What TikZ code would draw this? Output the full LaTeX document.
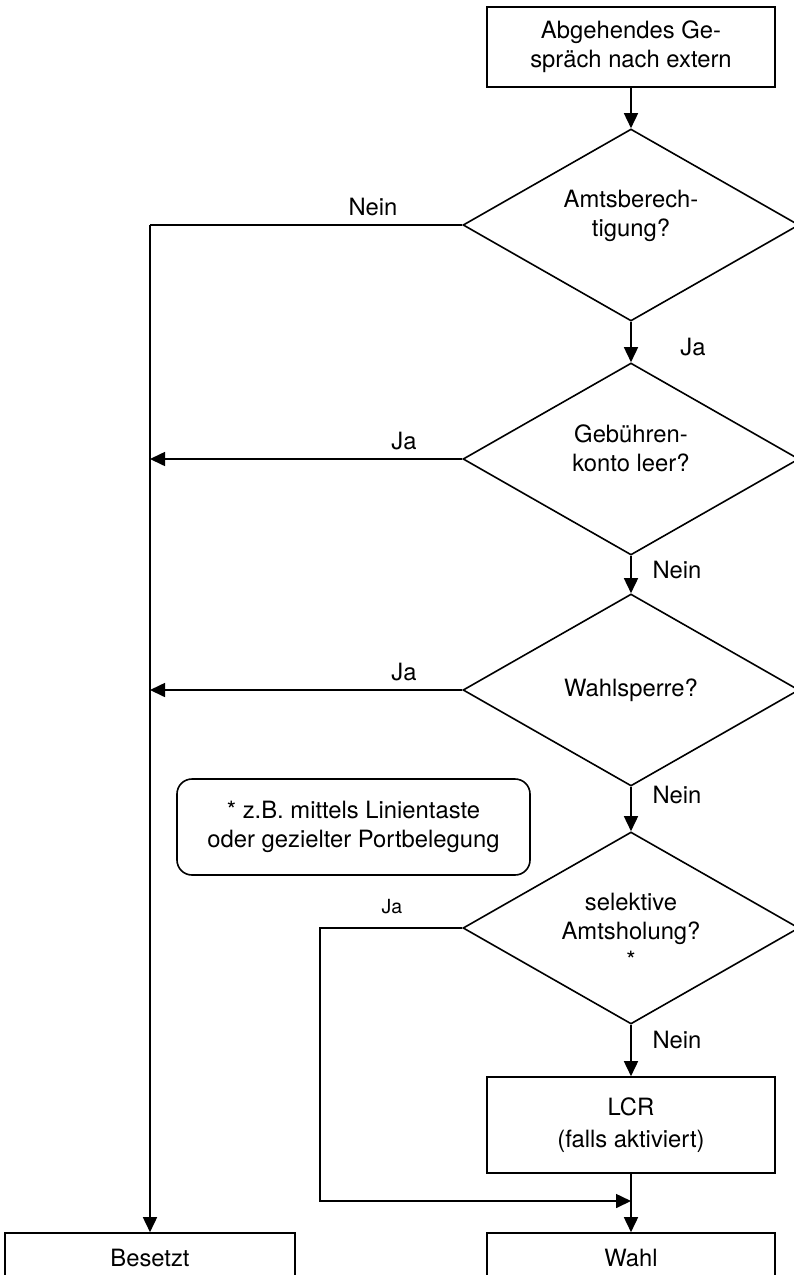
\documentclass[tikz,border=0pt]{standalone}
\usepackage{fontspec}
\setmainfont{TeX Gyre Heros}
\usetikzlibrary{arrows.meta,%
		positioning,%
		shapes.geometric}

\begin{document}
\begin{tikzpicture}[x=1pt,y=-1pt,line width=1.6pt,
	font=\fontsize{23.8}{29}\selectfont,
	>={Triangle[length=15pt,width=14pt]},
	box/.style={draw,rectangle,minimum width=288pt,align=center,inner sep=0pt},
	decision/.style={draw,diamond,minimum width=336pt,minimum height=192pt,inner sep=0pt},
	txt/.style={align=center,inner sep=0pt}]
\useasboundingbox (0,0) rectangle (793,1275);

%blocchi principali
\node[box,minimum height=80pt] (start) at (631,47) {Abgehendes Ge-\\spräch nach extern};
\node[decision] (amt) at (631,225) {};
\node[txt] at ([yshift=9pt]amt) {Amtsberech-\\tigung?};
\node[decision] (geb) at (631,459) {};
\node[txt] at ([yshift=11pt]geb) {Gebühren-\\konto leer?};
\node[decision] (wsp) at (631,690) {};
\node[txt] at (wsp) {Wahlsperre?};
\node[decision] (sel) at (631,928) {};
\node[txt] at ([yshift=-3pt]sel) {selektive\\Amtsholung?\\*};
\node[box,minimum height=96pt] (lcr) at (631,1125) {LCR\\[3pt](falls aktiviert)};
\node[box,minimum height=50pt] (wahl) at (631,1258) {Wahl};
\node[box,minimum width=290pt,minimum height=50pt] (besetzt) at (150,1258) {Besetzt};

%nota
\node[draw,rectangle,rounded corners=15pt,minimum width=353pt,minimum height=96pt,
	align=center,inner sep=0pt] (nota) at (353.5,827) {* z.B. mittels Linientaste\\oder gezielter Portbelegung};

%collegamenti
\coordinate (links) at (150,225);
\coordinate (umweg) at (320,1201);
\coordinate (mrg) at (631,1201);
\draw[->] (start) -- (amt);
\draw[->] (amt) -- (geb);
\draw[->] (geb) -- (wsp);
\draw[->] (wsp) -- (sel);
\draw[->] (sel) -- (lcr);
\draw[->] (lcr) -- (wahl);
\draw (amt.west) -- (links);
\draw[->] (links) -- (besetzt.north);
\draw[->] (geb.west) -- (geb.west -| links);
\draw[->] (wsp.west) -- (wsp.west -| links);
\draw[->] (sel.west) -- (sel.west -| umweg) -- (umweg) -- (mrg);

%etichette
\node[txt] (l1) at (373,207) {Nein};
\node[txt] (l2) at (693,347) {Ja};
\node[txt] (l3) at (404,441) {Ja};
\node[txt] (l4) at (677,570) {Nein};
\node[txt] (l5) at (404,672) {Ja};
\node[txt] (l6) at (677,795) {Nein};
\node[txt,font=\fontsize{19.5}{24}\selectfont] (l7) at (392,907) {Ja};
\node[txt] (l8) at (677,1040) {Nein};
\end{tikzpicture}
\end{document}
